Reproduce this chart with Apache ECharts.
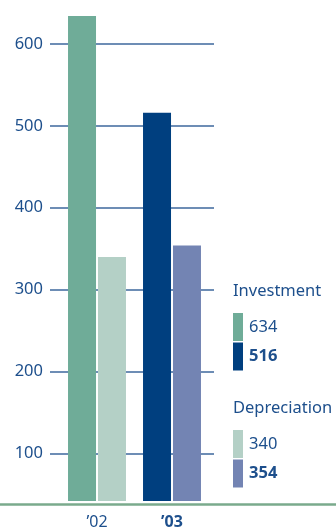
<!DOCTYPE html>
<html>
<head>
<meta charset="utf-8">
<script src="https://cdn.jsdelivr.net/npm/echarts@6/dist/echarts.min.js"></script>
<style>
  html, body { margin: 0; padding: 0; background: #ffffff; }
  #chart { width: 336px; height: 530px; }
</style>
</head>
<body>
<div id="chart"></div>
<script>
// Capital spending vs. depreciation, by fiscal year
const years = ['’02', '’03'];
const investment = [634, 516];
const depreciation = [340, 354];
const yTicks = [100, 200, 300, 400, 500, 600];

const investmentColors = ['#6fac98', '#003f7f'];
const depreciationColors = ['#b4d0c6', '#7384b3'];
const textColor = '#1d4f8c';
const fontFamily = '"Noto Sans", "Open Sans", sans-serif';

const chart = echarts.init(document.getElementById('chart'), null, { renderer: 'canvas' });

// Bars are placed on a numeric x axis (category index) so the two year groups
// can sit off-centre within the gridline span.
const toPoints = (values) => values.map((v, i) => [i, v]);

// Custom legend: heading, then one swatch + value per year
const legendBlocks = [
  { title: 'Investment', values: investment, colors: investmentColors, y: 291 },
  { title: 'Depreciation', values: depreciation, colors: depreciationColors, y: 408 }
];
const graphics = [];
legendBlocks.forEach((block) => {
  graphics.push({
    type: 'text', x: 233, y: block.y, z: 10,
    style: { text: block.title, fill: textColor, font: '16.5px ' + fontFamily, verticalAlign: 'middle' }
  });
  block.values.forEach((v, i) => {
    const top = block.y + 22 + i * 29.5;
    graphics.push({
      type: 'rect', z: 10,
      shape: { x: 233, y: top, width: 10, height: 28 },
      style: { fill: block.colors[i] }
    });
    graphics.push({
      type: 'text', x: 249, y: top + 14, z: 10,
      style: {
        text: String(v), fill: textColor, verticalAlign: 'middle',
        font: (i === years.length - 1 ? 'bold ' : '') + '16.5px ' + fontFamily
      }
    });
  });
});
// Green baseline across the full width
graphics.push({
  type: 'line', z: 10,
  shape: { x1: 0, y1: 504.5, x2: 336, y2: 504.5 },
  style: { stroke: '#7aaa8c', lineWidth: 2.5 }
});

const option = {
  animation: false,
  backgroundColor: '#ffffff',
  grid: { left: 50, right: 122, top: 3, bottom: 25.7, containLabel: false },
  xAxis: {
    type: 'value',
    min: -0.6267,
    max: 1.56,
    axisLine: { show: false },
    axisTick: { show: false },
    splitLine: { show: false },
    axisLabel: {
      customValues: years.map((_, i) => i),
      margin: 13,
      formatter: (v) => {
        const i = Math.round(v);
        return i === years.length - 1 ? '{b|' + years[i] + '}' : '{n|' + years[i] + '}';
      },
      rich: {
        n: { color: textColor, fontSize: 16, fontFamily: fontFamily },
        b: { color: textColor, fontSize: 16, fontFamily: fontFamily, fontWeight: 'bold' }
      }
    }
  },
  yAxis: {
    type: 'value',
    min: 42,
    max: 650,
    axisLine: { show: false },
    axisTick: { show: false, customValues: yTicks },
    axisLabel: {
      customValues: yTicks,
      color: textColor,
      fontSize: 16.5,
      fontFamily: fontFamily,
      margin: 7
    },
    splitLine: { show: true, lineStyle: { color: '#3c679c', width: 1.5 } }
  },
  series: [
    {
      name: 'Investment',
      type: 'bar',
      barWidth: 28,
      barGap: '7%',
      data: toPoints(investment),
      itemStyle: { color: (p) => investmentColors[p.dataIndex] }
    },
    {
      name: 'Depreciation',
      type: 'bar',
      barWidth: 28,
      barGap: '7%',
      data: toPoints(depreciation),
      itemStyle: { color: (p) => depreciationColors[p.dataIndex] }
    }
  ],
  graphic: graphics
};

chart.setOption(option);
</script>
</body>
</html>
